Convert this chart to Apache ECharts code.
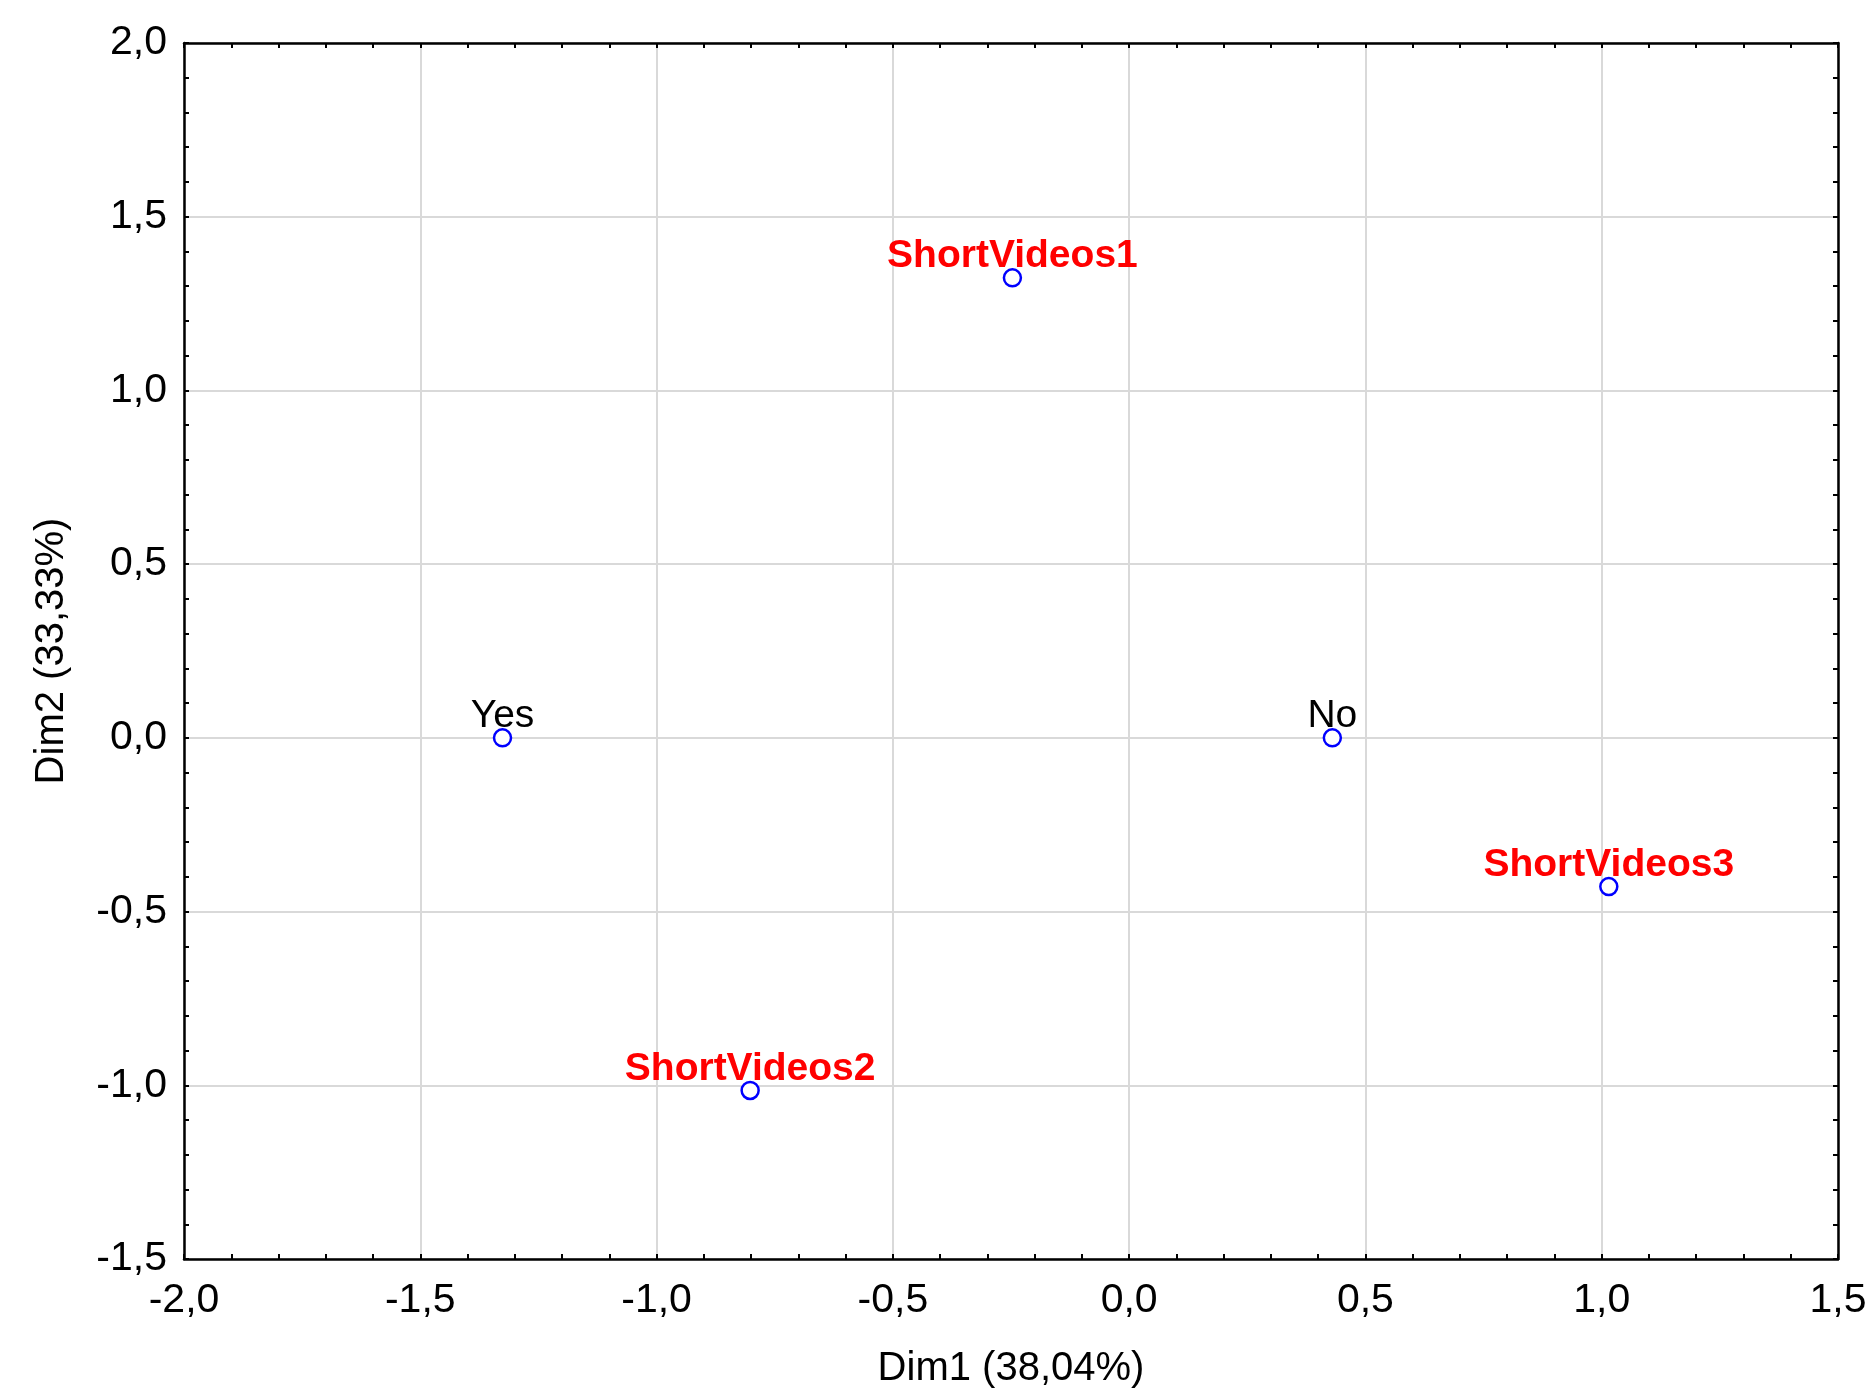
<!DOCTYPE html>
<html>
<head>
<meta charset="utf-8">
<script src="https://cdn.jsdelivr.net/npm/echarts@6/dist/echarts.min.js"></script>
<style>
html,body{margin:0;padding:0;background:#fff;}
#chart{width:1874px;height:1399px;}
</style>
</head>
<body>
<div id="chart"></div>
<script>
// Variable categories (red, bold)
const varLabels = ['ShortVideos1', 'ShortVideos2', 'ShortVideos3'];
const varDim1 = [-0.247, -0.802, 1.015];
const varDim2 = [1.324, -1.015, -0.428];
// Response categories (black)
const respLabels = ['Yes', 'No'];
const respDim1 = [-1.326, 0.430];
const respDim2 = [0.000, 0.000];
// Axes
const xTitle = 'Dim1 (38,04%)';
const yTitle = 'Dim2 (33,33%)';
const xRange = [-2.0, 1.5];
const yRange = [-1.5, 2.0];
const tickStep = 0.5;

const FONT = 'Liberation Sans, Arial, Helvetica, sans-serif';
const fmt = v => (Math.abs(v) < 1e-9 ? 0 : v).toFixed(1).replace('.', ',');

function mk(labels, xs, ys) {
  return labels.map((n, i) => ({ name: n, value: [xs[i], ys[i]] }));
}

const axisLine = { show: true, onZero: false, lineStyle: { color: '#000', width: 2.5 } };
const tick = { show: true, inside: true, length: 5, lineStyle: { color: '#000', width: 2 } };
const minor = { show: true, splitNumber: 5, length: 5, lineStyle: { color: '#000', width: 2 } };

const chart = echarts.init(document.getElementById('chart'), null, { renderer: 'canvas' });
chart.setOption({
  backgroundColor: '#fff',
  animation: false,
  grid: { left: 184, right: 36, top: 43, bottom: 140, containLabel: false },
  xAxis: [
    {
      type: 'value', position: 'bottom', min: xRange[0], max: xRange[1], interval: tickStep,
      axisLine: axisLine, axisTick: tick, minorTick: minor,
      splitLine: { show: true, lineStyle: { color: '#d9d9d9', width: 2 } },
      axisLabel: { formatter: fmt, fontSize: 41, fontFamily: FONT, color: '#000', margin: 21, showMinLabel: true, showMaxLabel: true },
      name: xTitle, nameLocation: 'middle', nameGap: 90,
      nameTextStyle: { fontSize: 40, fontFamily: FONT, color: '#000' }
    },
    {
      type: 'value', position: 'top', min: xRange[0], max: xRange[1], interval: tickStep,
      axisLine: axisLine, axisTick: tick, minorTick: minor,
      splitLine: { show: false }, axisLabel: { show: false }
    }
  ],
  yAxis: [
    {
      type: 'value', position: 'left', min: yRange[0], max: yRange[1], interval: tickStep,
      axisLine: axisLine, axisTick: tick, minorTick: minor,
      splitLine: { show: true, lineStyle: { color: '#d9d9d9', width: 2 } },
      axisLabel: { formatter: fmt, fontSize: 41, fontFamily: FONT, color: '#000', margin: 17, showMinLabel: true, showMaxLabel: true },
      name: yTitle, nameLocation: 'middle', nameGap: 112,
      nameTextStyle: { fontSize: 40, fontFamily: FONT, color: '#000' }
    },
    {
      type: 'value', position: 'right', min: yRange[0], max: yRange[1], interval: tickStep,
      axisLine: axisLine, axisTick: tick, minorTick: minor,
      splitLine: { show: false }, axisLabel: { show: false }
    }
  ],
  series: [
    {
      type: 'scatter', xAxisIndex: 0, yAxisIndex: 0,
      data: mk(varLabels, varDim1, varDim2),
      symbol: 'circle', symbolSize: 17,
      itemStyle: { color: '#fff', borderColor: '#0000ff', borderWidth: 2.5, opacity: 1 },
      label: {
        show: true, position: 'top', distance: 0, offset: [0, 8],
        formatter: p => p.name, color: '#ff0000', fontWeight: 'bold', fontSize: 39, fontFamily: FONT,
        textBorderWidth: 0
      },
      emphasis: { disabled: true }
    },
    {
      type: 'scatter', xAxisIndex: 0, yAxisIndex: 0,
      data: mk(respLabels, respDim1, respDim2),
      symbol: 'circle', symbolSize: 17,
      itemStyle: { color: '#fff', borderColor: '#0000ff', borderWidth: 2.5, opacity: 1 },
      label: {
        show: true, position: 'top', distance: 0, offset: [0, 8],
        formatter: p => p.name, color: '#000', fontWeight: 'normal', fontSize: 39, fontFamily: FONT,
        textBorderWidth: 0
      },
      emphasis: { disabled: true }
    }
  ]
});
</script>
</body>
</html>
